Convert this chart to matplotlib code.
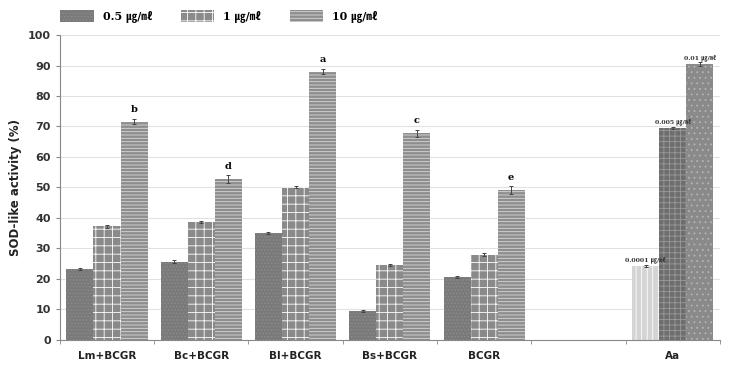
import numpy as np
import matplotlib
matplotlib.use("Agg")
from matplotlib import pyplot as plt

groups = ['Lm+BCGR', 'Bc+BCGR', 'Bl+BCGR', 'Bs+BCGR', 'BCGR', '', 'Aa']
conc_labels = ['0.5 ㎍/㎖', '1 ㎍/㎖', '10 ㎍/㎖']
low = [23.2, 25.7, 35.0, 9.5, 20.6, 0, 24.3]
mid = [37.2, 38.6, 50.1, 24.5, 28.0, 0, 69.5]
high = [71.6, 52.8, 88.0, 67.8, 49.2, 0, 90.5]
err_low = [0.4, 0.5, 0.4, 0.3, 0.4, 0, 0.3]
err_mid = [0.4, 0.4, 0.4, 0.3, 0.4, 0, 0.4]
err_high = [0.9, 1.2, 0.9, 1.2, 1.2, 0, 0.6]
letters = ['b', 'd', 'a', 'c', 'e', '', '']
aa_notes = ['0.0001 ㎍/㎖', '0.005 ㎍/㎖', '0.01 ㎍/㎖']

plt.rcParams['hatch.linewidth'] = 0.6
serif = ['DejaVu Serif', 'Noto Sans CJK KR']

fig = plt.figure(figsize=(7.3, 3.69), dpi=100)
ax = fig.add_axes([0.082, 0.079, 0.904, 0.826])

x = np.arange(len(groups))
w = 0.287
ek = dict(ecolor='#444444', elinewidth=0.7, capsize=1.5, capthick=0.7)

n = len(groups) - 1  # last group (Aa) is styled differently
b1 = ax.bar(x[:n] - w, low[:n], w, yerr=err_low[:n], color='#7a7a7a', edgecolor='#8c8c8c',
            hatch='.....', linewidth=0, error_kw=ek, label=conc_labels[0])
b2 = ax.bar(x[:n], mid[:n], w, yerr=err_mid[:n], color='#8a8a8a', edgecolor='white',
            hatch='++', linewidth=0, error_kw=ek, label=conc_labels[1])
b3 = ax.bar(x[:n] + w, high[:n], w, yerr=err_high[:n], color='#8e8e8e', edgecolor='#d8d8d8',
            hatch='-----', linewidth=0, error_kw=ek, label=conc_labels[2])

# Aa standard
i = n
ax.bar(x[i] - w, low[i], w, yerr=err_low[i], color='#d4d4d4', edgecolor='white',
       hatch='|||', linewidth=0, error_kw=ek)
ax.bar(x[i], mid[i], w, yerr=err_mid[i], color='#6e6e6e', edgecolor='#9a9a9a',
       hatch='+++', linewidth=0, error_kw=ek)
ax.bar(x[i] + w, high[i], w, yerr=err_high[i], color='#8a8a8a', edgecolor='#b4b4b4',
       hatch='...', linewidth=0, error_kw=ek)

for k in range(len(groups)):
    if letters[k]:
        ax.text(x[k] + w, high[k] + err_high[k] + 1.5, letters[k], ha='center', va='bottom',
                fontsize=7, fontweight='bold', family=serif)

for j, (v, e) in enumerate(zip([low[i], mid[i], high[i]], [err_low[i], err_mid[i], err_high[i]])):
    ax.text(x[i] + (j - 1) * w, v + e + 0.5, aa_notes[j], ha='center', va='bottom',
            fontsize=4.5, fontweight='bold', family=serif, color='#333333')

ax.set_xlim(-0.5, len(groups) - 0.5)
ax.set_ylim(0, 100)
ax.set_yticks(range(0, 101, 10))
ax.set_xticks(x)
ax.set_xticklabels(groups, fontsize=7.5, fontweight='bold', color='#222222')
ax.set_xticks(np.arange(-0.5, len(groups), 1.0), minor=True)
ax.tick_params(axis='x', which='major', length=0, pad=8)
ax.tick_params(axis='x', which='minor', length=3, color='#888888')
ax.tick_params(axis='y', labelsize=8, length=3, color='#888888')
for t in ax.get_yticklabels():
    t.set_fontweight('bold')
    t.set_color('#333333')
ax.set_ylabel('SOD-like activity (%)', fontsize=8.5, fontweight='bold', color='#222222')
ax.yaxis.grid(True, color='#e2e2e2', linewidth=0.8)
ax.set_axisbelow(True)
for s in ['top', 'right']:
    ax.spines[s].set_visible(False)
ax.spines['left'].set_color('#888888')
ax.spines['bottom'].set_color('#888888')

fig.legend(handles=[b1, b2, b3], labels=conc_labels, loc='upper center',
           bbox_to_anchor=(0.30, 1.0), ncol=3, frameon=False,
           prop={'family': serif, 'weight': 'bold', 'size': 8},
           handlelength=3.0, handleheight=1.3, columnspacing=2.6, handletextpad=0.8)

plt.savefig('out.png', dpi=100)
